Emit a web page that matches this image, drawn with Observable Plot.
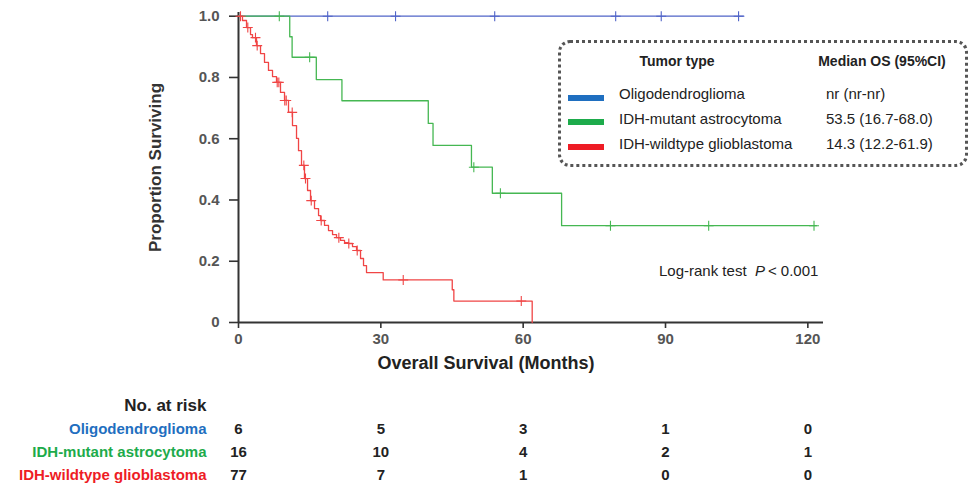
<!DOCTYPE html>
<html>
<head>
<meta charset="utf-8">
<script src="https://cdn.jsdelivr.net/npm/d3@7"></script>
<script src="https://cdn.jsdelivr.net/npm/@observablehq/plot@0.6"></script>
<style>
  body { margin: 0; background: #fff; font-family: "Liberation Sans", Arial, sans-serif; }
  #wrap { position: relative; width: 972px; height: 484px; overflow: hidden; }
  #wrap svg { display: block; }
  g[aria-label="y-axis tick label"] text, g[aria-label="x-axis tick label"] text { fill: #555; font-weight: bold; font-size: 15px; }
  g[aria-label="y-axis label"] text { fill: #333; font-weight: bold; font-size: 17px; }
  g[aria-label="y-axis tick"] path, g[aria-label="x-axis tick"] path { stroke: #333; stroke-width: 1.6px; }
  .legend { position: absolute; left: 558px; top: 40px; width: 404px; height: 121px; border: 3px dotted #555; border-radius: 12px; }
  .lbl { position: absolute; height: 20px; line-height: 20px; white-space: nowrap; color: #222; }
</style>
</head>
<body>
<div id="wrap"></div>
<script>
// ---- data ----
const groups = ["Oligodendroglioma", "IDH-mutant astrocytoma", "IDH-wildtype glioblastoma"];
const lineColors = ["#5064c8", "#45b752", "#f04545"];
const labelColors = ["#1f6fc0", "#1dab4b", "#ee1c25"];
const medianOS = ["nr (nr-nr)", "53.5 (16.7-68.0)", "14.3 (12.2-61.9)"];

// KM step points: [months, survival after step]
const oligoSteps = [[0, 1], [106.5, 1]];
const astroSteps = [[0, 1], [10.8, 0.933], [11.3, 0.866], [16.4, 0.793], [21.8, 0.724], [40.0, 0.650], [41.0, 0.578], [49.1, 0.507], [53.5, 0.422], [68.1, 0.316], [121.8, 0.316]];
const gbmSteps = [[0, 1], [0.84, 0.986], [1.69, 0.963], [2.53, 0.940], [2.95, 0.930], [3.79, 0.904], [4.64, 0.878], [5.48, 0.849], [6.32, 0.823], [7.17, 0.803], [8.01, 0.784], [8.85, 0.751], [9.70, 0.725], [10.54, 0.686], [11.38, 0.643], [12.23, 0.601], [12.65, 0.561], [13.28, 0.513], [13.91, 0.470], [14.55, 0.431], [15.18, 0.398], [16.02, 0.372], [16.87, 0.349], [17.29, 0.333], [18.13, 0.317], [18.97, 0.300], [19.82, 0.287], [20.66, 0.277], [21.50, 0.268], [22.35, 0.261], [23.19, 0.258], [24.03, 0.248], [24.88, 0.235], [25.72, 0.209], [26.35, 0.186], [26.98, 0.163], [30.5, 0.139], [45.05, 0.107], [45.39, 0.070], [61.9, 0]];

// censoring times (months)
const oligoCensor = [18.8, 33.1, 54.0, 79.5, 89.1, 105.4];
const astroCensor = [8.6, 15.0, 49.6, 55.2, 78.4, 99.1, 121.3];
const gbmCensor = [0.42, 1.96, 3.58, 3.94, 8.16, 8.50, 9.75, 10.06, 11.32, 13.77, 14.12, 15.33, 17.43, 21.15, 23.25, 25.02, 34.72, 59.6];

// number at risk
const riskTimes = [0, 30, 60, 90, 120];
const riskOligo = [6, 5, 3, 1, 0];
const riskAstro = [16, 10, 4, 2, 1];
const riskGbm = [77, 7, 1, 0, 0];

const xTicks = [0, 30, 60, 90, 120];
const yTicks = [0, 0.2, 0.4, 0.6, 0.8, 1.0];

// ---- build tables ----
const stepsArr = [oligoSteps, astroSteps, gbmSteps];
const censArr = [oligoCensor, astroCensor, gbmCensor];
const riskArr = [riskOligo, riskAstro, riskGbm];

function survAt(steps, t) {
  let s = steps[0][1];
  for (const [ti, si] of steps) { if (ti <= t) s = si; else break; }
  return s;
}
const lineData = [];
groups.forEach((g, i) => stepsArr[i].forEach(([t, s]) => lineData.push({group: g, t, s})));
const censData = [];
groups.forEach((g, i) => censArr[i].forEach(t => censData.push({group: g, t, s: survAt(stepsArr[i], t)})));
const riskData = [];
groups.forEach((g, i) => riskTimes.forEach((t, j) => riskData.push({group: g, t, n: riskArr[i][j]})));

const W = 972, mL = 238, mR = 149;
const xDomain = [0, 123.3];
const font = "'Liberation Sans', Arial, sans-serif";

const main = Plot.plot({
  width: W, height: 384,
  marginLeft: mL, marginRight: mR, marginTop: 12, marginBottom: 62,
  style: {fontFamily: font, background: "transparent", overflow: "visible"},
  x: {domain: xDomain},
  y: {domain: [0, 1.0121]},
  color: {domain: groups, range: lineColors},
  marks: [
    Plot.axisY({ticks: yTicks, tickSize: 9, tickPadding: 10, tickFormat: d => d === 0 ? "0" : d.toFixed(1),
      label: "Proportion Surviving", labelAnchor: "center", labelOffset: 90, labelArrow: "none", fontSize: 15}),
    Plot.axisX({ticks: xTicks, tickSize: 6, tickPadding: 5, tickFormat: d => String(d), label: null, fontSize: 15}),
    Plot.text(["Overall Survival (Months)"], {frameAnchor: "bottom", dx: -45, dy: 46, fontSize: 18, fontWeight: "bold", fill: "#222"}),
    Plot.ruleY([0], {stroke: "#333", strokeWidth: 2}),
    Plot.ruleX([0], {stroke: "#333", strokeWidth: 2}),
    Plot.line(lineData, {x: "t", y: "s", z: "group", stroke: "group", curve: "step-after", strokeWidth: 1.3}),
    Plot.dot(censData, {x: "t", y: "s", stroke: "group", symbol: "plus", r: 3.3, strokeWidth: 1.1})
  ]
});

const riskMarks = [
  Plot.text(riskData, {x: "t", y: "group", text: d => String(d.n), fontWeight: "bold", fontSize: 15, fill: "#222"}),
  Plot.text(["No. at risk"], {frameAnchor: "top-left", dx: -32, dy: 14, textAnchor: "end", fontWeight: "bold", fontSize: 17, fill: "#222"})
];
groups.forEach((g, i) => riskMarks.push(
  Plot.text([g], {y: d => d, frameAnchor: "left", dx: -32, textAnchor: "end", fontWeight: "bold", fontSize: 15, fill: labelColors[i]})
));
const risk = Plot.plot({
  width: W, height: 100,
  marginLeft: mL, marginRight: mR, marginTop: 0, marginBottom: 0,
  style: {fontFamily: font, background: "transparent", overflow: "visible"},
  x: {domain: xDomain, axis: null},
  y: {type: "point", domain: groups, range: [44, 91], padding: 0, axis: null},
  marks: riskMarks
});

const wrap = document.getElementById("wrap");
wrap.appendChild(main);
wrap.appendChild(risk);

// legend box (overlay on plot area)
const leg = document.createElement("div");
leg.className = "legend";
wrap.appendChild(leg);
function addLabel(text, left, cy, opts = {}) {
  const d = document.createElement("div");
  d.className = "lbl";
  d.style.left = left + "px";
  d.style.top = (cy - 10) + "px";
  d.style.fontSize = (opts.size || 15) + "px";
  if (opts.bold) d.style.fontWeight = "bold";
  if (opts.center) { d.style.transform = "translateX(-50%)"; }
  d.innerHTML = text;
  wrap.appendChild(d);
  return d;
}
addLabel("Tumor type", 677, 61, {bold: true, size: 14, center: true});
addLabel("Median OS (95%CI)", 882, 61, {bold: true, size: 14, center: true});
const rowsY = [94, 118.5, 143.5];
groups.forEach((g, i) => {
  const sw = document.createElement("div");
  sw.style.cssText = `position:absolute;left:568px;top:${rowsY[i] + 0.5}px;width:36px;height:6px;background:${labelColors[i]}`;
  wrap.appendChild(sw);
  addLabel(g, 619, rowsY[i]);
  addLabel(medianOS[i], 826, rowsY[i]);
});
addLabel("Log-rank test&nbsp;&nbsp;<i>P</i>&thinsp;&lt; 0.001", 659, 271);
</script>
</body>
</html>
